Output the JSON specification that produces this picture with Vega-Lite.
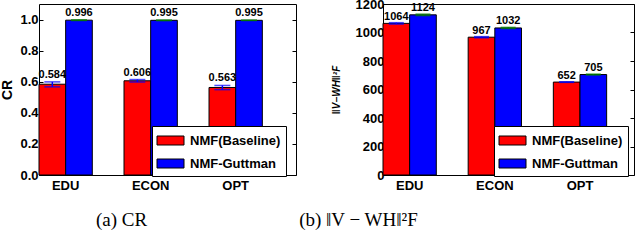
{
  "$schema": "https://vega.github.io/schema/vega-lite/v6.json",
  "padding": {"left": 0, "top": -3, "right": 0, "bottom": 0},
  "background": "white",
  "datasets": {
    "cr": [
      {"dataset": "EDU", "method": "NMF(Baseline)", "value": 0.584, "lo": 0.567, "hi": 0.599},
      {"dataset": "EDU", "method": "NMF-Guttman", "value": 0.996, "lo": 0.994, "hi": 0.998},
      {"dataset": "ECON", "method": "NMF(Baseline)", "value": 0.606, "lo": 0.598, "hi": 0.614},
      {"dataset": "ECON", "method": "NMF-Guttman", "value": 0.995, "lo": 0.993, "hi": 0.997},
      {"dataset": "OPT", "method": "NMF(Baseline)", "value": 0.563, "lo": 0.549, "hi": 0.576},
      {"dataset": "OPT", "method": "NMF-Guttman", "value": 0.995, "lo": 0.994, "hi": 0.996}
    ],
    "err": [
      {"dataset": "EDU", "method": "NMF(Baseline)", "value": 1064, "lo": 1059, "hi": 1069},
      {"dataset": "EDU", "method": "NMF-Guttman", "value": 1124, "lo": 1119, "hi": 1129},
      {"dataset": "ECON", "method": "NMF(Baseline)", "value": 967, "lo": 963, "hi": 971},
      {"dataset": "ECON", "method": "NMF-Guttman", "value": 1032, "lo": 1028, "hi": 1036},
      {"dataset": "OPT", "method": "NMF(Baseline)", "value": 652, "lo": 650, "hi": 654},
      {"dataset": "OPT", "method": "NMF-Guttman", "value": 705, "lo": 702, "hi": 708}
    ]
  },
  "bounds": "flush",
  "spacing": 87,
  "hconcat": [
    {
      "width": 257,
      "height": 171,
      "data": {"name": "cr"},
      "title": {"text": "(a) CR", "orient": "bottom", "dx": -46, "offset": 19, "font": "Liberation Serif", "fontSize": 19, "fontWeight": "normal", "color": "black"},
      "encoding": {
        "x": {"field": "dataset", "type": "nominal", "sort": ["EDU", "ECON", "OPT"],
              "scale": {"paddingInner": 0.373, "paddingOuter": 0.198, "align": 0},
              "axis": {"title": null, "ticks": false, "domain": false, "labelAngle": 0, "labelPadding": 4}},
        "xOffset": {"field": "method", "type": "nominal", "sort": ["NMF(Baseline)", "NMF-Guttman"], "scale": {"paddingInner": 0, "paddingOuter": 0}}
      },
      "layer": [
        {
          "mark": {"type": "bar", "stroke": "black", "strokeWidth": 1},
          "encoding": {
            "y": {"field": "value", "type": "quantitative", "scale": {"domain": [0, 1.1], "nice": false},
                  "axis": {"title": "CR", "values": [0, 0.2, 0.4, 0.6, 0.8, 1.0], "format": ".1f", "grid": false, "domain": false, "tickSize": -4, "tickColor": "black", "labelPadding": 5, "titlePadding": 5, "titleFontSize": 14}},
            "color": {"field": "method", "type": "nominal", "sort": ["NMF(Baseline)", "NMF-Guttman"],
                      "scale": {"domain": ["NMF(Baseline)", "NMF-Guttman"], "range": ["#ff0000", "#0000ff"]},
                      "legend": {"orient": "none", "legendX": 113, "legendY": 122, "title": null, "fillColor": "white", "strokeColor": "black", "padding": 5, "rowPadding": 6, "symbolType": "M-1.5,-0.5H1.5V0.5H-1.5Z", "symbolSize": 324, "symbolStrokeColor": "black", "symbolStrokeWidth": 1, "symbolOpacity": 1, "symbolOffset": 4, "labelOffset": 10, "labelFont": "Liberation Sans", "labelFontSize": 13, "labelFontWeight": "bold", "labelColor": "black"}}
          }
        },
        {
          "mark": {"type": "rule", "strokeWidth": 1.5},
          "encoding": {
            "y": {"field": "lo", "type": "quantitative", "axis": null},
            "y2": {"field": "hi"},
            "color": {"field": "method", "type": "nominal", "scale": {"domain": ["NMF(Baseline)", "NMF-Guttman"], "range": ["#0000ff", "#008000"]}, "legend": null}
          }
        },
        {
          "mark": {"type": "tick", "thickness": 1.5, "size": 16, "orient": "horizontal"},
          "encoding": {
            "y": {"field": "lo", "type": "quantitative", "axis": null},
            "color": {"field": "method", "type": "nominal", "scale": {"domain": ["NMF(Baseline)", "NMF-Guttman"], "range": ["#0000ff", "#008000"]}, "legend": null}
          }
        },
        {
          "mark": {"type": "tick", "thickness": 1.5, "size": 16, "orient": "horizontal"},
          "encoding": {
            "y": {"field": "hi", "type": "quantitative",
                  "axis": {"orient": "right", "title": null, "labels": false, "values": [0, 0.2, 0.4, 0.6, 0.8, 1.0], "grid": false, "domain": false, "tickSize": -4, "tickColor": "black"}},
            "color": {"field": "method", "type": "nominal", "scale": {"domain": ["NMF(Baseline)", "NMF-Guttman"], "range": ["#0000ff", "#008000"]}, "legend": null}
          }
        },
        {
          "mark": {"type": "text", "baseline": "bottom", "dy": -2, "font": "Liberation Sans", "fontSize": 11, "fontWeight": "bold", "color": "black"},
          "encoding": {
            "y": {"field": "hi", "type": "quantitative", "axis": null},
            "text": {"field": "value", "type": "quantitative", "format": ".3f"}
          }
        }
      ],
      "resolve": {"scale": {"color": "independent"}, "axis": {"y": "independent"}}
    },
    {
      "width": 251,
      "height": 171,
      "data": {"name": "err"},
      "title": {"text": "(b) ‖V − WH‖²F", "orient": "bottom", "dx": -150, "offset": 19, "font": "Liberation Serif", "fontSize": 19, "fontWeight": "normal", "color": "black"},
      "encoding": {
        "x": {"field": "dataset", "type": "nominal", "sort": ["EDU", "ECON", "OPT"],
              "scale": {"paddingInner": 0.373, "paddingOuter": 0.16, "align": 0},
              "axis": {"title": null, "ticks": false, "domain": false, "labelAngle": 0, "labelPadding": 4}},
        "xOffset": {"field": "method", "type": "nominal", "sort": ["NMF(Baseline)", "NMF-Guttman"], "scale": {"paddingInner": 0, "paddingOuter": 0}}
      },
      "layer": [
        {
          "mark": {"type": "bar", "stroke": "black", "strokeWidth": 1},
          "encoding": {
            "y": {"field": "value", "type": "quantitative", "scale": {"domain": [0, 1200], "nice": false},
                  "axis": {"title": "‖V−WH‖²F", "titleFontStyle": "italic", "titleFontSize": 10, "values": [0, 200, 400, 600, 800, 1000, 1200], "format": "d", "grid": false, "domain": false, "tickSize": -4, "tickColor": "black", "labelPadding": 3, "titlePadding": 14}},
            "color": {"field": "method", "type": "nominal", "sort": ["NMF(Baseline)", "NMF-Guttman"],
                      "scale": {"domain": ["NMF(Baseline)", "NMF-Guttman"], "range": ["#ff0000", "#0000ff"]},
                      "legend": {"orient": "none", "legendX": 111, "legendY": 122, "title": null, "fillColor": "white", "strokeColor": "black", "padding": 5, "rowPadding": 6, "symbolType": "M-1.5,-0.5H1.5V0.5H-1.5Z", "symbolSize": 324, "symbolStrokeColor": "black", "symbolStrokeWidth": 1, "symbolOpacity": 1, "symbolOffset": 4, "labelOffset": 10, "labelFont": "Liberation Sans", "labelFontSize": 13, "labelFontWeight": "bold", "labelColor": "black"}}
          }
        },
        {
          "mark": {"type": "rule", "strokeWidth": 1.5},
          "encoding": {
            "y": {"field": "lo", "type": "quantitative", "axis": null},
            "y2": {"field": "hi"},
            "color": {"field": "method", "type": "nominal", "scale": {"domain": ["NMF(Baseline)", "NMF-Guttman"], "range": ["#0000ff", "#008000"]}, "legend": null}
          }
        },
        {
          "mark": {"type": "tick", "thickness": 1.5, "size": 15, "orient": "horizontal"},
          "encoding": {
            "y": {"field": "lo", "type": "quantitative", "axis": null},
            "color": {"field": "method", "type": "nominal", "scale": {"domain": ["NMF(Baseline)", "NMF-Guttman"], "range": ["#0000ff", "#008000"]}, "legend": null}
          }
        },
        {
          "mark": {"type": "tick", "thickness": 1.5, "size": 15, "orient": "horizontal"},
          "encoding": {
            "y": {"field": "hi", "type": "quantitative",
                  "axis": {"orient": "right", "title": null, "labels": false, "values": [0, 200, 400, 600, 800, 1000, 1200], "grid": false, "domain": false, "tickSize": -4, "tickColor": "black"}},
            "color": {"field": "method", "type": "nominal", "scale": {"domain": ["NMF(Baseline)", "NMF-Guttman"], "range": ["#0000ff", "#008000"]}, "legend": null}
          }
        },
        {
          "mark": {"type": "text", "baseline": "bottom", "dy": -1, "font": "Liberation Sans", "fontSize": 11, "fontWeight": "bold", "color": "black"},
          "encoding": {
            "y": {"field": "hi", "type": "quantitative", "axis": null},
            "text": {"field": "value", "type": "quantitative", "format": "d"}
          }
        }
      ],
      "resolve": {"scale": {"color": "independent"}, "axis": {"y": "independent"}}
    }
  ],
  "config": {
    "view": {"stroke": "black", "strokeWidth": 1},
    "axis": {"labelFont": "Liberation Sans", "labelFontSize": 13, "labelFontWeight": "bold", "labelColor": "black", "titleFont": "Liberation Sans", "titleFontWeight": "bold", "titleColor": "black"},
    "title": {"font": "Liberation Serif"}
  }
}
